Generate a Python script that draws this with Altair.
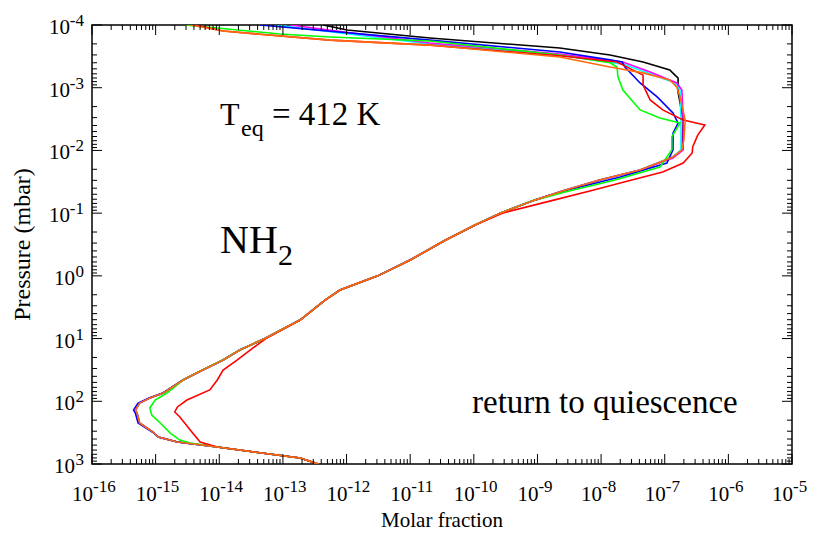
import altair as alt
import pandas as pd

# ---------------- data ----------------
orange_p = [1e-4, 1.25e-4, 1.74e-4, 2.09e-4, 3.24e-4, 4.68e-4, 5.8e-4, 7.5e-4, 9.8e-4, 1.4e-3,
            3.3e-3, 6.8e-3, 9.8e-3, 1.27e-2, 2.05e-2, 2.96e-2, 4.3e-2, 6.2e-2, 0.1, 0.155,
            0.27, 0.56, 1.0, 1.68, 2.43, 5.06, 10, 15.2, 22, 35,
            45.8, 73.8, 88.7, 107, 138, 154, 222, 309, 372, 447,
            537, 804, 1000]
orange_x = [3.5e-15, 1.15e-14, 5.5e-13, 2.04e-11, 2.24e-9, 1.38e-8, 4.57e-8, 1.2e-7, 1.55e-7, 1.74e-7,
            2.1e-7, 2.0e-7, 1.86e-7, 1.35e-7, 4.1e-8, 9.5e-9, 2.7e-9, 9.1e-10, 2.6e-10, 1.05e-10,
            3.55e-11, 1.0e-11, 3.1e-12, 7.9e-13, 4.6e-13, 1.86e-13, 5.2e-14, 2.1e-14, 1.15e-14, 4.5e-15,
            2.7e-15, 1.32e-15, 8.1e-16, 5.6e-16, 4.8e-16, 5.1e-16, 5.6e-16, 9.1e-16, 1.1e-15, 2.2e-15,
            9.3e-15, 1.86e-13, 3.6e-13]

black_p = [1e-4, 1.2e-4, 1.61e-4, 2.33e-4, 3.0e-4, 3.89e-4, 5.2e-4, 6.3e-4, 7.0e-4, 1.17e-3,
           3.3e-3, 9.8e-3, 1.27e-2, 2.05e-2, 2.96e-2, 4.3e-2, 6.2e-2, 0.1, 0.155,
           0.27, 0.56, 1.0, 1.68, 2.43, 5.06, 10, 15.2, 22, 35,
           45.8, 73.8, 88.7, 107, 138, 154, 222, 309, 372, 447,
           537, 804, 1000]
black_x = [4.3e-13, 1.02e-12, 2.04e-11, 2.24e-9, 1.38e-8, 4.57e-8, 1.2e-7, 1.45e-7, 1.62e-7, 1.62e-7,
           1.95e-7, 1.86e-7, 1.35e-7, 4.1e-8, 9.5e-9, 2.7e-9, 9.1e-10, 2.6e-10, 1.05e-10,
           3.55e-11, 1.0e-11, 3.1e-12, 7.9e-13, 4.6e-13, 1.86e-13, 5.2e-14, 2.1e-14, 1.15e-14, 4.5e-15,
           2.7e-15, 1.32e-15, 8.1e-16, 5.6e-16, 4.8e-16, 5.1e-16, 5.6e-16, 9.1e-16, 1.1e-15, 2.2e-15,
           9.3e-15, 1.86e-13, 3.6e-13]

blue_p = [1e-4, 1.74e-4, 2.7e-4, 3.6e-4, 3.89e-4, 4.68e-4, 8.4e-4, 1.4e-3, 2.53e-3, 3.66e-3,
          5.3e-3, 9.8e-3, 1.59e-2, 2.65e-2, 4.4e-2, 6.2e-2, 0.1, 0.155,
          0.27, 0.56, 1.0, 1.68, 2.43, 5.06, 10, 15.2, 22, 35,
          45.8, 73.8, 88.7, 107, 138, 154, 222, 309, 372, 447,
          537, 804, 1000]
blue_x = [4.4e-14, 2.04e-11, 2.24e-9, 1.38e-8, 2.14e-8, 2.37e-8, 4.1e-8, 7.6e-8, 1.35e-7, 1.62e-7,
          1.35e-7, 1.35e-7, 1.08e-7, 2.0e-8, 2.7e-9, 9.1e-10, 2.6e-10, 1.05e-10,
          3.55e-11, 1.0e-11, 3.1e-12, 7.9e-13, 4.6e-13, 1.86e-13, 5.2e-14, 2.1e-14, 1.15e-14, 4.5e-15,
          2.7e-15, 1.3e-15, 7.9e-16, 5.3e-16, 4.5e-16, 4.8e-16, 5.3e-16, 8.9e-16, 1.1e-15, 2.2e-15,
          9.3e-15, 1.86e-13, 3.6e-13]

magenta_p = [1e-4, 1.94e-4, 2.9e-4, 3.89e-4, 5.6e-4, 8.4e-4, 1.09e-3, 3.3e-3, 9.8e-3, 1.32e-2,
             2.05e-2, 2.96e-2, 4.3e-2, 6.2e-2, 0.1, 0.155,
             0.27, 0.56, 1.0, 1.68, 2.43, 5.06, 10, 15.2, 22, 35,
             45.8, 73.8, 88.7, 107, 138, 154, 222, 309, 372, 447,
             537, 804, 1000]
magenta_x = [1.29e-13, 2.04e-11, 2.24e-9, 2.2e-8, 5.9e-8, 1.55e-7, 1.86e-7, 1.95e-7, 1.95e-7, 1.35e-7,
             4.1e-8, 9.5e-9, 2.7e-9, 9.1e-10, 2.6e-10, 1.05e-10,
             3.55e-11, 1.0e-11, 3.1e-12, 7.9e-13, 4.6e-13, 1.86e-13, 5.2e-14, 2.1e-14, 1.15e-14, 4.5e-15,
             2.7e-15, 1.32e-15, 8.1e-16, 5.6e-16, 4.8e-16, 5.1e-16, 5.6e-16, 9.1e-16, 1.1e-15, 2.2e-15,
             9.3e-15, 1.86e-13, 3.6e-13]

cyan_p = [1e-4, 2.0e-4, 3.0e-4, 4.2e-4, 6.0e-4, 8.4e-4, 1.09e-3, 3.3e-3, 9.8e-3, 1.27e-2,
          2.05e-2, 2.96e-2, 4.3e-2, 6.2e-2, 0.1, 0.155,
          0.27, 0.56, 1.0, 1.68, 2.43, 5.06, 10, 15.2, 22, 35,
          45.8, 73.8, 88.7, 107, 138, 154, 222, 309, 372, 447,
          537, 804, 1000]
cyan_x = [7.5e-14, 2.04e-11, 2.24e-9, 2.2e-8, 5.9e-8, 1.45e-7, 1.74e-7, 1.8e-7, 1.8e-7, 1.35e-7,
          4.1e-8, 9.5e-9, 2.7e-9, 9.1e-10, 2.6e-10, 1.05e-10,
          3.55e-11, 1.0e-11, 3.1e-12, 7.9e-13, 4.6e-13, 1.86e-13, 5.2e-14, 2.1e-14, 1.15e-14, 4.5e-15,
          2.7e-15, 1.32e-15, 8.1e-16, 5.6e-16, 4.8e-16, 5.1e-16, 5.6e-16, 9.1e-16, 1.1e-15, 2.2e-15,
          9.3e-15, 1.86e-13, 3.6e-13]

green_p = [1e-4, 1.39e-4, 1.55e-4, 1.8e-4, 3.0e-4, 4.0e-4, 4.68e-4, 6.7e-4, 1.09e-3, 2.26e-3,
           3.04e-3, 3.66e-3, 6.1e-3, 9.8e-3, 1.84e-2, 2.96e-2, 4.6e-2, 6.2e-2, 0.1, 0.155,
           0.27, 0.56, 1.0, 1.68, 2.43, 5.06, 10, 15.2, 22, 35,
           45.8, 73.8, 95.6, 128, 166, 222, 321, 415, 463,
           537, 804, 1000]
green_x = [2.9e-15, 8.9e-14, 5.5e-13, 2.04e-11, 2.24e-9, 1.38e-8, 1.78e-8, 1.84e-8, 2.2e-8, 4.1e-8,
           8.4e-8, 1.74e-7, 1.29e-7, 1.29e-7, 8.4e-8, 1.66e-8, 2.7e-9, 9.1e-10, 2.6e-10, 1.05e-10,
           3.55e-11, 1.0e-11, 3.1e-12, 7.9e-13, 4.6e-13, 1.86e-13, 5.2e-14, 2.1e-14, 1.15e-14, 4.5e-15,
           2.7e-15, 1.5e-15, 9.8e-16, 8.1e-16, 8.7e-16, 1.18e-15, 1.7e-15, 2.4e-15, 3.5e-15,
           9.3e-15, 1.86e-13, 3.6e-13]

red_p = [1e-4, 1.25e-4, 1.74e-4, 2.09e-4, 3.1e-4, 3.89e-4, 6.3e-4, 9.1e-4, 1.57e-3, 2.26e-3,
         3.27e-3, 3.93e-3, 5.7e-3, 8.8e-3, 1.1e-2, 1.59e-2, 2.2e-2, 3.3e-2, 4.3e-2, 6.2e-2,
         0.1, 0.155, 0.27, 0.56, 1.0, 1.68, 2.43, 5.06, 10, 14.7,
         22, 31.8, 45.8, 66, 95.6, 123, 148, 178, 287, 447,
         537, 804, 1000]
red_x = [4.2e-15, 1.15e-14, 5.5e-13, 2.04e-11, 2.24e-9, 1.78e-8, 4.57e-8, 4.57e-8, 5.9e-8, 9.3e-8,
         1.95e-7, 4.27e-7, 3.3e-7, 2.75e-7, 2.7e-7, 1.95e-7, 9.3e-8, 2.0e-8, 7.4e-9, 1.8e-9,
         2.8e-10, 1.05e-10, 3.55e-11, 1.0e-11, 3.1e-12, 7.9e-13, 4.6e-13, 1.86e-13, 5.4e-14, 3.2e-14,
         1.9e-14, 1.15e-14, 9.3e-15, 7.1e-15, 3.1e-15, 2.2e-15, 2.0e-15, 2.4e-15, 3.5e-15, 5.0e-15,
         9.3e-15, 1.86e-13, 3.6e-13]

# axis decades (exponents) and their labels
x_exps = [-16, -15, -14, -13, -12, -11, -10, -9, -8, -7, -6, -5]
y_exps = [-4, -3, -2, -1, 0, 1, 2, 3]
minor_mult = [2, 3, 4, 5, 6, 7, 8, 9]

# ---------------- chart ----------------
W, H = 700, 439
FONT = "Times New Roman, Liberation Serif, DejaVu Serif, serif"
xscale = alt.Scale(type="log", domain=[1e-16, 1e-5], nice=False)
yscale = alt.Scale(type="log", domain=[1e-4, 1e3], reverse=True, nice=False)

series = [
    ("#000000", black_x, black_p),
    ("#00ffff", cyan_x, cyan_p),
    ("#ff00ff", magenta_x, magenta_p),
    ("#0000ff", blue_x, blue_p),
    ("#00ff00", green_x, green_p),
    ("#ff0000", red_x, red_p),
    ("#ff6a10", orange_x, orange_p),
]

layers = []
for color, xs, ps in series:
    df = pd.DataFrame({"x": xs, "p": ps, "i": list(range(len(xs)))})
    layers.append(
        alt.Chart(df).mark_line(color=color, strokeWidth=1.6, clip=True).encode(
            x=alt.X("x:Q", scale=xscale, axis=None),
            y=alt.Y("p:Q", scale=yscale, axis=None),
            order="i:Q",
        )
    )

xmaj = pd.DataFrame({"v": [10.0 ** e for e in x_exps], "e": [str(e) for e in x_exps]})
xmin = pd.DataFrame({"v": [m * 10.0 ** e for e in x_exps[:-1] for m in minor_mult]})
ymaj = pd.DataFrame({"v": [10.0 ** e for e in y_exps], "e": [str(e) for e in y_exps], "n": y_exps})
ymin = pd.DataFrame({"v": [m * 10.0 ** e for e in y_exps[:-1] for m in minor_mult]})

XE = alt.X("v:Q", scale=xscale, axis=None)
YE = alt.Y("v:Q", scale=yscale, axis=None)

def xticks(df, ln):
    top = alt.Chart(df).mark_rule(color="black", strokeWidth=1).encode(
        x=XE, y=alt.value(0), y2=alt.value(ln))
    bot = alt.Chart(df).mark_rule(color="black", strokeWidth=1).encode(
        x=XE, y=alt.value(H), y2=alt.value(H - ln))
    return [top, bot]

def yticks(df, ln):
    left = alt.Chart(df).mark_rule(color="black", strokeWidth=1).encode(
        y=YE, x=alt.value(0), x2=alt.value(ln))
    right = alt.Chart(df).mark_rule(color="black", strokeWidth=1).encode(
        y=YE, x=alt.value(W), x2=alt.value(W - ln))
    return [left, right]

layers += xticks(xmaj, 10) + xticks(xmin, 5) + yticks(ymaj, 10) + yticks(ymin, 5)

# tick labels
layers.append(alt.Chart(xmaj).mark_text(align="right", baseline="alphabetic", fontSize=21,
                                         font=FONT, dx=1, color="black").encode(
    x=XE, y=alt.value(H + 37), text=alt.value("10")))
layers.append(alt.Chart(xmaj).mark_text(align="left", baseline="alphabetic", fontSize=17,
                                         font=FONT, dx=1, color="black").encode(
    x=XE, y=alt.value(H + 28), text="e:N"))
layers.append(alt.Chart(ymaj).mark_text(align="right", baseline="alphabetic", fontSize=17,
                                         font=FONT, dy=1, color="black").encode(
    y=YE, x=alt.value(-8), text="e:N"))
layers.append(alt.Chart(ymaj).transform_filter("datum.n < 0").mark_text(
    align="right", baseline="alphabetic", fontSize=21, font=FONT, dy=9, color="black").encode(
    y=YE, x=alt.value(-22), text=alt.value("10")))
layers.append(alt.Chart(ymaj).transform_filter("datum.n >= 0").mark_text(
    align="right", baseline="alphabetic", fontSize=21, font=FONT, dy=9, color="black").encode(
    y=YE, x=alt.value(-17), text=alt.value("10")))

# axis titles and annotations
def label(txt, x, y, size, angle=0, align="left"):
    return alt.Chart(pd.DataFrame({"t": [txt]})).mark_text(
        align=align, baseline="alphabetic", fontSize=size, font=FONT, angle=angle, color="black"
    ).encode(text="t:N", x=alt.value(x), y=alt.value(y))

layers += [
    label("Molar fraction", W / 2, H + 63, 21, align="center"),
    label("Pressure (mbar)", -62, H / 2, 24, angle=270, align="center"),
    label("T", 128, 100, 32),
    label("eq", 149, 111, 24),
    label("= 412 K", 180, 100, 33),
    label("NH", 128, 228, 40),
    label("2", 186, 240, 30),
    label("return to quiescence", 380, 388, 33),
]

chart = alt.layer(*layers).properties(
    width=W, height=H,
    autosize=alt.AutoSizeParams(type="none"),
    padding={"left": 84, "top": 17, "right": 30, "bottom": 70},
    background="white",
).configure_view(stroke="black", strokeWidth=1.5)

chart.save("out.html", embed_options={"renderer": "svg", "actions": False})
